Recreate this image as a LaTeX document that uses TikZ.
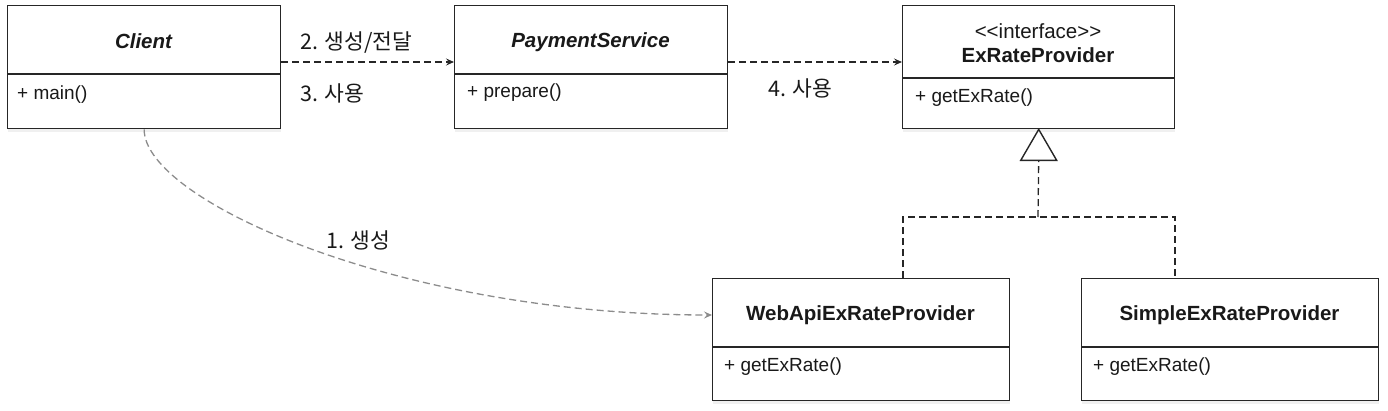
\documentclass[tikz,border=0pt]{standalone}
\usepackage{fontspec}
\setmainfont{Liberation Sans}
\newfontfamily\kr{Noto Sans CJK KR}
\usetikzlibrary{arrows.meta,shadows,calc}
\begin{document}
\begin{tikzpicture}[x=1pt,y=-1pt,
  cls/.style={draw=black!85,line width=1.4pt,fill=white,inner sep=0pt,anchor=north west,
    drop shadow={shadow xshift=0pt,shadow yshift=-3pt,opacity=0.12}},
  divline/.style={draw=black!85,line width=1.4pt},
  ttl/.style={font=\fontsize{20.5}{24}\selectfont\bfseries,anchor=base,inner sep=0pt,text=black!90},
  mth/.style={font=\fontsize{19}{22}\selectfont,anchor=base west,inner sep=0pt,text=black!90},
  lbl/.style={font=\kr\fontsize{21.5}{24}\selectfont,anchor=base west,inner sep=0pt,text=black!90},
  dep/.style={draw=black!85,line width=1.3pt,dash pattern=on 7pt off 4pt,
    -{Stealth[length=8pt,width=7pt,inset=3pt]}},
  gdep/.style={dep,draw=black!45,-{Stealth[length=8pt,width=7pt,inset=3pt,black!45]}},
  impl/.style={draw=black!85,line width=1.3pt,dash pattern=on 7pt off 4pt},
  tri/.style={draw=black!85,line width=1.4pt,fill=white,line join=miter}]
\useasboundingbox (0,0) rectangle (1388,410);

% classes
\node[cls,minimum width=273pt,minimum height=123pt] (client) at (7,5) {};
\node[cls,minimum width=273pt,minimum height=123pt] (pay) at (454,5) {};
\node[cls,minimum width=272pt,minimum height=123pt] (exr) at (902,5) {};
\node[cls,minimum width=297pt,minimum height=122pt] (web) at (712,278) {};
\node[cls,minimum width=297pt,minimum height=122pt] (simple) at (1081,278) {};

% dividers
\coordinate (d1) at (0,74);
\coordinate (d2) at (0,78);
\coordinate (d3) at (0,347);
\draw[divline] (client.west |- d1) -- (client.east |- d1);
\draw[divline] (pay.west |- d1) -- (pay.east |- d1);
\draw[divline] (exr.west |- d2) -- (exr.east |- d2);
\draw[divline] (web.west |- d3) -- (web.east |- d3);
\draw[divline] (simple.west |- d3) -- (simple.east |- d3);

% titles
\node[ttl,font=\fontsize{20.5}{24}\selectfont\bfseries\itshape] (clientT) at (143.5,48) {Client};
\node[ttl,font=\fontsize{20.5}{24}\selectfont\bfseries\itshape] (payT) at (590.5,47) {PaymentService};
\node[ttl,font=\fontsize{20.5}{24}\selectfont] (exrS) at (1038,38) {<\kern0pt<interface>\kern0pt>};
\node[ttl] (exrT) at (1038,62) {ExRateProvider};
\node[ttl] (webT) at (860.5,320) {WebApiExRateProvider};
\node[ttl] (simpleT) at (1229.5,320) {SimpleExRateProvider};

% methods
\node[mth] (clientM) at (17,99) {+ main()};
\node[mth] (payM) at (467,97) {+ prepare()};
\node[mth] (exrM) at (915,102) {+ getExRate()};
\node[mth] (webM) at (724,371) {+ getExRate()};
\node[mth] (simpleM) at (1093,371) {+ getExRate()};

% dependencies
\coordinate (ya) at (0,62);
\coordinate (yb) at (0,315);
\draw[dep] (client.east |- ya) -- (pay.west |- ya);
\draw[dep] (pay.east |- ya) -- (exr.west |- ya);
\draw[gdep] (client.south) .. controls (143.5,200) and (400,315) .. (web.west |- yb);

% labels
\node[lbl] (l2) at (300,49) {2. 생성/전달};
\node[lbl] (l3) at (300,101) {3. 사용};
\node[lbl] (l4) at (768,96) {4. 사용};
\node[lbl] (l1) at (326,248) {1. 생성};

% realization
\coordinate (tb) at ($(exr.south)+(0,31)$);
\coordinate (j) at (1038,217);
\coordinate (xl) at (903,0);
\coordinate (xr) at (1175,0);
\draw[impl] (web.north -| xl) |- (j) -| (simple.north -| xr);
\draw[impl] (j) -- (exr.south |- tb);
\draw[tri] (exr.south) -- ++(-18,31) -- ++(36,0) -- cycle;
\end{tikzpicture}
\end{document}
